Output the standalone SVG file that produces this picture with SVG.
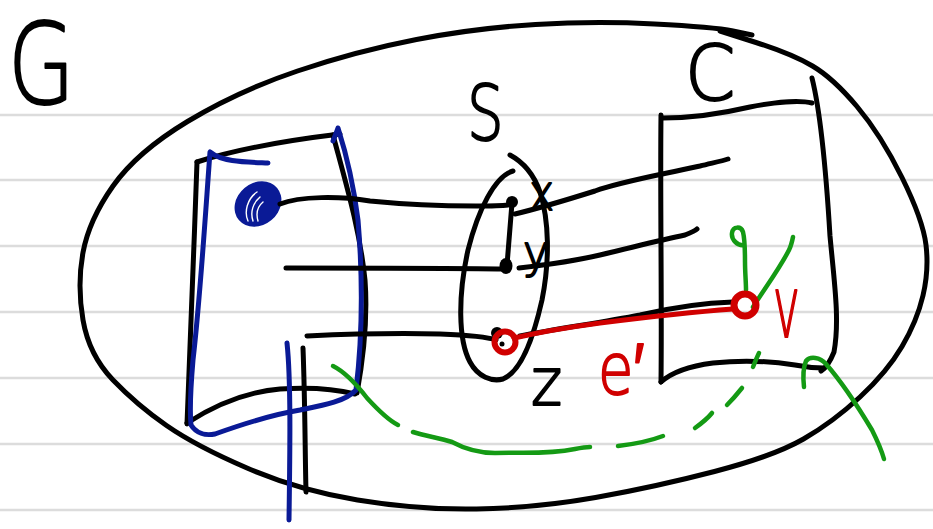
<svg xmlns="http://www.w3.org/2000/svg" width="933" height="529" viewBox="0 0 933 529">
<style>
.rule{stroke:#dcdcdc;stroke-width:2.5}
.k{fill:none;stroke:#000;stroke-width:5;stroke-linecap:round;stroke-linejoin:round}
.b{fill:none;stroke:#0a1a96;stroke-width:5;stroke-linecap:round;stroke-linejoin:round}
.r{fill:none;stroke:#d00000;stroke-width:5;stroke-linecap:round;stroke-linejoin:round}
.g{fill:none;stroke:#149a14;stroke-width:4.5;stroke-linecap:round;stroke-linejoin:round}
.t{font-family:"DejaVu Sans","Liberation Sans",sans-serif;font-weight:200;fill:#000;stroke:#000;stroke-width:2;stroke-linejoin:round}
.tr{fill:#d00000;stroke:#d00000}
</style>
<rect width="933" height="529" fill="#fff"/>
<g id="ruling">
<line class="rule" x1="0" y1="115" x2="933" y2="115"/>
<line class="rule" x1="0" y1="180" x2="933" y2="180"/>
<line class="rule" x1="0" y1="246" x2="933" y2="246"/>
<line class="rule" x1="0" y1="312" x2="933" y2="312"/>
<line class="rule" x1="0" y1="378" x2="933" y2="378"/>
<line class="rule" x1="0" y1="444" x2="933" y2="444"/>
<line class="rule" x1="0" y1="510" x2="933" y2="510"/>
</g>
<g id="G">
<path class="k" d="M 752 35 L 733 31 Q 714 27 654.5 24 Q 595 21 535.5 24.5 Q 476 28 416.5 39.5 Q 357 51 297.5 71 Q 238 91 187.5 121.5 Q 137 152 113 186 Q 89 220 83 252.5 Q 77 285 83 320 Q 89 355 113 380 Q 137 405 166.5 425.5 Q 196 446 247 468 Q 298 490 357.5 500 Q 417 510 476.5 509 Q 536 508 595.5 497.5 Q 655 487 714.5 471.5 Q 774 456 803.5 439 Q 833 422 860 397 Q 887 372 902 346.5 Q 917 321 923 295.5 Q 929 270 926 245 Q 923 220 902 177.5 Q 881 135 857 106.5 Q 833 78 812.5 66 Q 792 54 756 42.5 L 720 31"/>
<text class="t" transform="translate(8,103) scale(0.86,1.12)" font-size="100">G</text>
</g>
<g id="A">
<path class="k" d="M 197 162 C 240 148, 290 140, 340 134"/>
<path class="k" d="M 197 162 C 194 250, 190 340, 187 424"/>
<path class="k" d="M 333 135 C 345 180, 360 230, 365 280 C 368 320, 363 360, 357 393"/>
<path class="k" d="M 187 423 C 215 405, 245 392, 280 389 C 310 387, 335 389, 355 394"/>
<path class="k" d="M 303 348 C 305 400, 305 450, 306 492"/>
<path class="b" d="M 268 163 C 245 162, 222 162, 210 152 C 205 220, 200 300, 193 360 C 190 395, 190 415, 191 425 C 196 433, 205 436, 215 434 C 240 425, 270 415, 300 410 C 320 406, 345 402, 356 390 C 362 340, 363 280, 358 220 C 353 180, 345 150, 338 128 C 336 134, 334 138, 333 141"/>
<path class="b" d="M 287 343 C 291 380, 290 450, 289 520"/>
<ellipse cx="258" cy="204" rx="25" ry="21" transform="rotate(-40 258 204)" fill="#0a1a96"/>
<path d="M 248 221 C 244 212, 247 199, 257 192 M 253 221 C 250 212, 253 203, 260 197 M 258 221 C 256 214, 257 207, 263 202" fill="none" stroke="#fff" stroke-width="1.4" stroke-linecap="round"/>
</g>
<g id="S">
<path class="k" d="M 513 171 C 495 176, 478 210, 468 250 C 458 295, 458 340, 470 362 C 478 377, 492 382, 503 379 C 520 372, 533 340, 542 300 C 550 260, 549 220, 540 192 C 534 175, 525 163, 510 155"/>
<text class="t" transform="translate(467,140) scale(0.76,1)" font-size="76">S</text>
<text class="t" transform="translate(529,210) scale(0.85,1)" font-size="50">x</text>
<text class="t" transform="translate(523,268) scale(0.95,1)" font-size="46">y</text>
<text class="t" transform="translate(531,405) scale(0.9,1)" font-size="66">z</text>
</g>
<g id="C">
<path class="k" d="M 661 115 C 660 200, 662 300, 661 382"/>
<path class="k" d="M 663 118 C 690 118, 720 114, 750 107 C 775 102, 800 100, 812 103"/>
<path class="k" d="M 812 78 C 820 110, 826 170, 830 236 C 834 280, 840 320, 834 352 C 830 362, 826 368, 821 371"/>
<path class="k" d="M 661 382 C 672 372, 690 366, 713 363 C 740 360, 770 361, 795 365 C 805 367, 815 368, 824 368"/>
<text class="t" transform="translate(685,100) scale(0.95,1)" font-size="76">C</text>
</g>
<g id="connectors">
<path class="k" d="M 280 204 C 300 196, 340 196, 370 201 C 410 205, 450 206, 476 206 C 490 206, 500 206, 508 205"/>
<path class="k" d="M 286 268 C 360 268, 440 268, 506 269"/>
<path class="k" d="M 307 336 C 350 334, 400 333, 440 334 C 465 335, 485 336, 496 340"/>
<path class="k" d="M 512 203 L 507 265"/>
<path class="k" d="M 515 214 C 540 208, 560 202, 595 191 C 620 182, 650 177, 700 166 C 712 163, 722 161, 728 159"/>
<path class="k" d="M 519 268 C 545 265, 570 262, 600 255 C 630 248, 660 240, 685 235 C 690 233, 695 231, 697 229"/>
<path class="k" d="M 520 336 C 560 328, 600 323, 640 315 C 670 308, 700 303, 733 302"/>
<path class="r" d="M 514 338 C 540 332, 570 327, 600 323 C 640 318, 680 313, 733 309"/>
<path class="g" d="M 744 245 C 738 246, 731 240, 732 233 C 733 226, 741 226, 743 232 C 745 240, 745 250, 745 262 C 745 272, 746 282, 746 290"/>
<path class="g" d="M 793 237 C 792 242, 791 246, 789 250 C 780 268, 765 288, 753 307"/>
<path class="g" d="M 333 366 C 345 372, 357 385, 367 398 C 378 410, 388 420, 398 425"/>
<path class="g" d="M 413 432 C 425 436, 440 438, 452 442 C 465 449, 478 453, 495 453 C 520 452, 545 455, 575 449 C 580 448, 585 447, 590 447"/>
<path class="g" d="M 618 446 C 635 444, 650 441, 663 436"/>
<path class="g" d="M 695 428 C 702 423, 708 418, 712 413"/>
<path class="g" d="M 727 405 C 732 400, 738 393, 742 388"/>
<path class="g" d="M 753 367 C 755 362, 757 357, 759 353"/>
<path class="g" d="M 804 387 C 803 378, 803 368, 806 361 C 810 356, 820 357, 826 364 C 840 380, 860 410, 872 430 C 878 442, 882 452, 884 459"/>
</g>
<g id="z">
<circle cx="497" cy="333" r="6" fill="#000"/>
<circle cx="505" cy="342" r="10.5" fill="none" stroke="#d00000" stroke-width="6"/>
<circle cx="502" cy="344" r="2.5" fill="#000"/>
</g>
<g id="x"><circle cx="512" cy="202" r="6" fill="#000"/></g>
<g id="y"><ellipse cx="506" cy="266" rx="6.5" ry="8" fill="#000"/></g>
<g id="v">
<circle cx="745" cy="305" r="11" fill="none" stroke="#d00000" stroke-width="7"/>
<text class="t tr" transform="translate(773,337) scale(0.58,1.1)" font-size="78">v</text>
</g>
<g id="eprime">
<text class="t tr" transform="translate(598,394) scale(0.8,1)" font-size="72">e′</text>
</g>
</svg>
